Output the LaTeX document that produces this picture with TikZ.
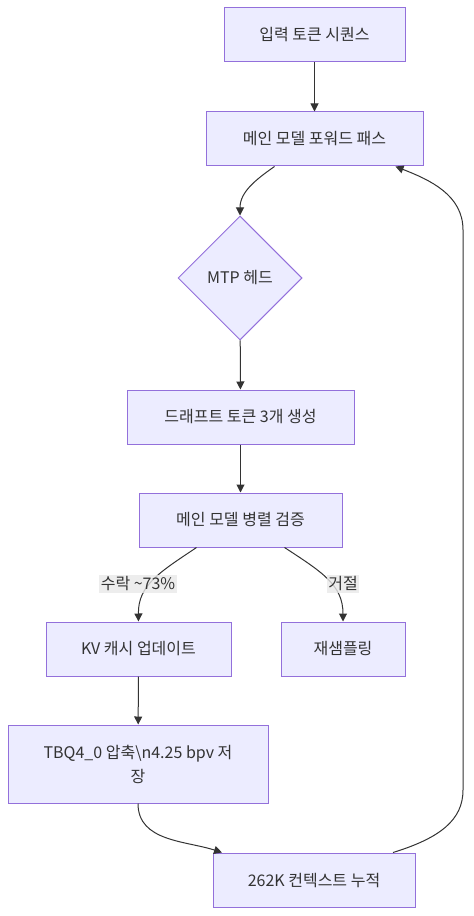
\documentclass[tikz,border=0pt]{standalone}
\usepackage{fontspec}
\setmainfont{Noto Sans CJK KR}
\usepackage{tikz}
\usetikzlibrary{shapes.geometric, arrows.meta, calc}
\definecolor{boxfill}{RGB}{236, 236, 255}
\definecolor{boxline}{RGB}{147, 112, 219}
\definecolor{inktext}{RGB}{51, 51, 51}
\definecolor{labelgray}{RGB}{232, 232, 232}
\tikzstyle{proc} = [rectangle, draw=boxline, fill=boxfill, line width=0.75pt, text=inktext, align=center, font=\fontsize{12}{18}\selectfont, minimum height=40.5pt, inner sep=2pt]
\tikzstyle{decide} = [diamond, draw=boxline, fill=boxfill, line width=0.75pt, text=inktext, font=\fontsize{12}{18}\selectfont, minimum width=93pt, minimum height=93pt, inner sep=0pt]
\tikzstyle{arrow} = [-{Triangle[length=6pt, width=6pt]}, line width=0.75pt, draw=inktext]
\tikzstyle{elabel} = [fill=labelgray, fill opacity=0.8, text opacity=1, text=inktext, font=\fontsize{12}{16}\selectfont, inner sep=1pt]

\begin{document}
\begin{tikzpicture}[x=0.75pt, y=-0.75pt]
    \useasboundingbox (0,0) rectangle (474,916);

    % Main chain
    \node[proc, minimum width=135.75pt] (input) at (314.5, 35) {입력 토큰 시퀀스};
    \node[proc, minimum width=162.75pt] (fwd) at (314.5, 139) {메인 모델 포워드 패스};
    \node[decide] (mtp) at (240, 278) {MTP 헤드};
    \node[proc, minimum width=170.25pt] (draft) at (240.5, 417) {드래프트 토큰 3개 생성};
    \node[proc, minimum width=152.25pt] (verify) at (240.5, 520) {메인 모델 병렬 검증};

    % Outcomes
    \node[proc, minimum width=138.75pt] (kv) at (138.5, 649) {KV 캐시 업데이트};
    \node[proc, minimum width=93pt] (resample) at (343, 649) {재샘플링};
    \node[proc, minimum width=195pt, minimum height=58.5pt] (tbq) at (138, 764) {TBQ4\_0 압축\textbackslash n4.25 bpv 저\\장};
    \node[proc, minimum width=151.5pt] (ctx) at (314, 880) {262K 컨텍스트 누적};

    % Connectors
    \draw[arrow] (input) -- (fwd);
    \draw[arrow] ($(fwd.south)+(-40,0)$) to[out=-145, in=90] (mtp.north);
    \draw[arrow] (mtp) -- (draft);
    \draw[arrow] (draft) -- (verify);
    \draw[arrow] ($(verify.south)+(-44,0)$) .. controls (160,572) and (138,585) .. (kv.north);
    \draw[arrow] ($(verify.south)+(44,0)$) .. controls (322,572) and (343,585) .. (resample.north);
    \draw[arrow] (kv) -- (tbq);
    \draw[arrow] (tbq.south) to[out=-90, in=162] ($(ctx.north)+(-92,0)$);

    % Loop back
    \coordinate (rlow) at (463, 790);
    \coordinate (rhigh) at (463, 230);
    \draw[arrow] ($(ctx.north)+(79,0)$) .. controls (440,838) and (463,820) .. (rlow)
        -- (rhigh) .. controls (463,195) and (430,180) .. ($(fwd.south)+(81,0)$);

    % Edge labels
    \node[elabel] (yes) at (138, 584) {수락 \textasciitilde73\%};
    \node[elabel] (no) at (343, 584) {거절};
\end{tikzpicture}
\end{document}
